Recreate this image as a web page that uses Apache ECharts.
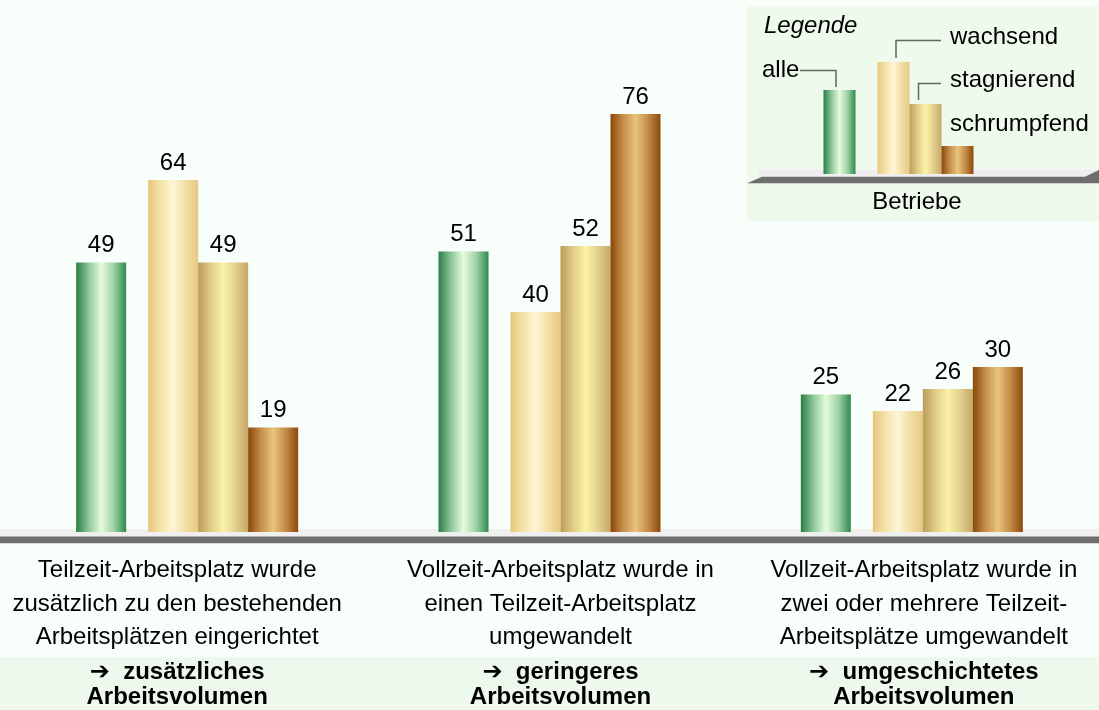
<!DOCTYPE html>
<html>
<head>
<meta charset="utf-8">
<script src="https://cdn.jsdelivr.net/npm/echarts@6/dist/echarts.min.js"></script>
<style>
html,body{margin:0;padding:0;background:#f8fef9;}
#chart{width:1099px;height:710px;}
</style>
</head>
<body>
<div id="chart"></div>
<script>
// ---- data ----
const categories = [
  'Teilzeit-Arbeitsplatz wurde\nzusätzlich zu den bestehenden\nArbeitsplätzen eingerichtet',
  'Vollzeit-Arbeitsplatz wurde in\neinen Teilzeit-Arbeitsplatz\numgewandelt',
  'Vollzeit-Arbeitsplatz wurde in\nzwei oder mehrere Teilzeit-\nArbeitsplätze umgewandelt'
];
const outcomes = [
  '➔  zusätzliches\nArbeitsvolumen',
  '➔  geringeres\nArbeitsvolumen',
  '➔  umgeschichtetes\nArbeitsvolumen'
];
const alle = [49, 51, 25];
const wachsend = [64, 40, 22];
const stagnierend = [49, 52, 26];
const schrumpfend = [19, 76, 30];
const seriesNames = ['alle', 'wachsend', 'stagnierend', 'schrumpfend'];
const legendCategory = ['Betriebe'];
const legendSample = [3, 4, 2.5, 1]; // illustrative heights in the legend

// ---- styles ----
function grad(stops) {
  return new echarts.graphic.LinearGradient(0, 0, 1, 0,
    stops.map((c, i) => ({ offset: i / (stops.length - 1), color: c })));
}
const fills = {
  alle: grad(['#2a7d45', '#8cc79a', '#e6fcdc', '#9fd1a6', '#2e8a4c']),
  wachsend: grad(['#e5c67c', '#f5e2aa', '#fdf6d4', '#f3dea6', '#e6c882']),
  stagnierend: grad(['#bb9c58', '#e0cc88', '#fbf2a6', '#e2cf8e', '#c5a866']),
  schrumpfend: grad(['#8a4608', '#c58d4a', '#e8c47c', '#c48c48', '#8c480a'])
};
const FONT = "'Liberation Sans', Arial, 'DejaVu Sans', sans-serif";
const offsets = [{padding: [0, 20, 0, 0]}, {padding: [0, 0, 0, 22]}, {padding: [0, 0, 0, 24]}];

function richSet(base) {
  const r = {};
  offsets.forEach((o, i) => { r['p' + i] = Object.assign({}, base, o); });
  return r;
}

const mainData = { alle, wachsend, stagnierend, schrumpfend };

function buildSeries(gridIdx, xIdx, yIdx, dataFor, bw, withLabels) {
  const out = [];
  seriesNames.forEach((name, k) => {
    out.push({
      type: 'bar', name: name, xAxisIndex: xIdx, yAxisIndex: yIdx,
      barWidth: bw, barGap: '0%', barCategoryGap: '0%',
      data: dataFor(name, k),
      itemStyle: { color: fills[name] },
      silent: true,
      label: withLabels ? {
        show: true, position: 'top', distance: 5,
        fontSize: 24, fontFamily: FONT, color: '#000'
      } : { show: false }
    });
    if (k === 0) {
      // empty spacer series producing the gap between "alle" and the other bars
      out.push({
        type: 'bar', name: 'gap' + gridIdx, xAxisIndex: xIdx, yAxisIndex: yIdx,
        barWidth: 22, barGap: '0%', silent: true,
        data: dataFor(null, -1).map(() => '-')
      });
    }
  });
  return out;
}

const chart = echarts.init(document.getElementById('chart'), null, { renderer: 'canvas' });

const option = {
  backgroundColor: '#f8fef9',
  animation: false,
  grid: [
    { left: 6, right: 6, top: 37, bottom: 176 },
    { left: 798, width: 201, top: 62, height: 112 }
  ],
  xAxis: [
    {
      type: 'category', gridIndex: 0, data: categories, position: 'bottom',
      axisLine: { show: false }, axisTick: { show: false },
      axisLabel: {
        interval: 0, margin: 22, color: '#000',
        fontSize: 24, fontFamily: FONT, lineHeight: 33.5,
        formatter: (v, i) => '{p' + i + '|' + v + '}',
        rich: richSet({ fontSize: 24, fontFamily: FONT, lineHeight: 33.5, color: '#000' })
      }
    },
    {
      type: 'category', gridIndex: 0, data: outcomes, position: 'bottom', offset: 0,
      axisLine: { show: false }, axisTick: { show: false },
      axisLabel: {
        interval: 0, margin: 128, color: '#000',
        fontSize: 24, fontWeight: 'bold', fontFamily: FONT, lineHeight: 25,
        formatter: (v, i) => '{p' + i + '|' + v + '}',
        rich: richSet({ fontSize: 24, fontWeight: 'bold', fontFamily: FONT, lineHeight: 25, color: '#000' })
      }
    },
    {
      type: 'category', gridIndex: 1, data: legendCategory,
      axisLine: { show: false }, axisTick: { show: false },
      axisLabel: {
        interval: 0, margin: 16, color: '#000', fontSize: 24, fontFamily: FONT,
        padding: [0, 0, 0, 37]
      }
    }
  ],
  yAxis: [
    { type: 'value', gridIndex: 0, min: 0, max: 90, show: false },
    { type: 'value', gridIndex: 1, min: 0, max: 4, show: false }
  ],
  graphic: [
    // bottom band
    { type: 'rect', z: -10, shape: { x: 0, y: 657, width: 1099, height: 53 }, style: { fill: '#edf9ec' } },
    // main floor
    { type: 'rect', z: -5, shape: { x: 0, y: 529, width: 1099, height: 7.5 }, style: { fill: '#efefef' } },
    { type: 'rect', z: 10, shape: { x: 0, y: 536.5, width: 1099, height: 6.7 }, style: { fill: '#6e6e6e' } },
    // legend box
    { type: 'rect', z: -10, shape: { x: 747, y: 6, width: 352, height: 215 }, style: { fill: '#eefaec' } },
    { type: 'rect', z: -5, shape: { x: 758, y: 169.5, width: 341, height: 7.5 }, style: { fill: '#efefef' } },
    { type: 'polygon', z: 10, shape: { points: [[747, 183.3], [762, 176.8], [1085, 176.8], [1099, 170], [1099, 183.3]] }, style: { fill: '#6e6e6e' } },
    // legend texts
    { type: 'text', z: 10, style: { x: 764, y: 26, text: 'Legende', font: 'italic 24px ' + FONT, fill: '#000', verticalAlign: 'middle' } },
    { type: 'text', z: 10, style: { x: 762, y: 70, text: seriesNames[0], font: '24px ' + FONT, fill: '#000', verticalAlign: 'middle' } },
    { type: 'text', z: 10, style: { x: 950, y: 37, text: seriesNames[1], font: '24px ' + FONT, fill: '#000', verticalAlign: 'middle' } },
    { type: 'text', z: 10, style: { x: 950, y: 80, text: seriesNames[2], font: '24px ' + FONT, fill: '#000', verticalAlign: 'middle' } },
    { type: 'text', z: 10, style: { x: 950, y: 124, text: seriesNames[3], font: '24px ' + FONT, fill: '#000', verticalAlign: 'middle' } },
    // leader lines
    { type: 'polyline', z: 10, shape: { points: [[800, 70.5], [836, 70.5], [836, 87]] }, style: { stroke: '#666', lineWidth: 1.5, fill: null } },
    { type: 'polyline', z: 10, shape: { points: [[896, 58], [896, 40.5], [941, 40.5]] }, style: { stroke: '#666', lineWidth: 1.5, fill: null } },
    { type: 'polyline', z: 10, shape: { points: [[918.5, 100], [918.5, 83.5], [941, 83.5]] }, style: { stroke: '#666', lineWidth: 1.5, fill: null } }
  ],
  series: [].concat(
    buildSeries(0, 0, 0, (name) => name ? mainData[name] : alle, 50, true),
    buildSeries(1, 2, 1, (name, k) => k >= 0 ? [legendSample[k]] : [0], 32, false)
  )
};

chart.setOption(option);
</script>
</body>
</html>
